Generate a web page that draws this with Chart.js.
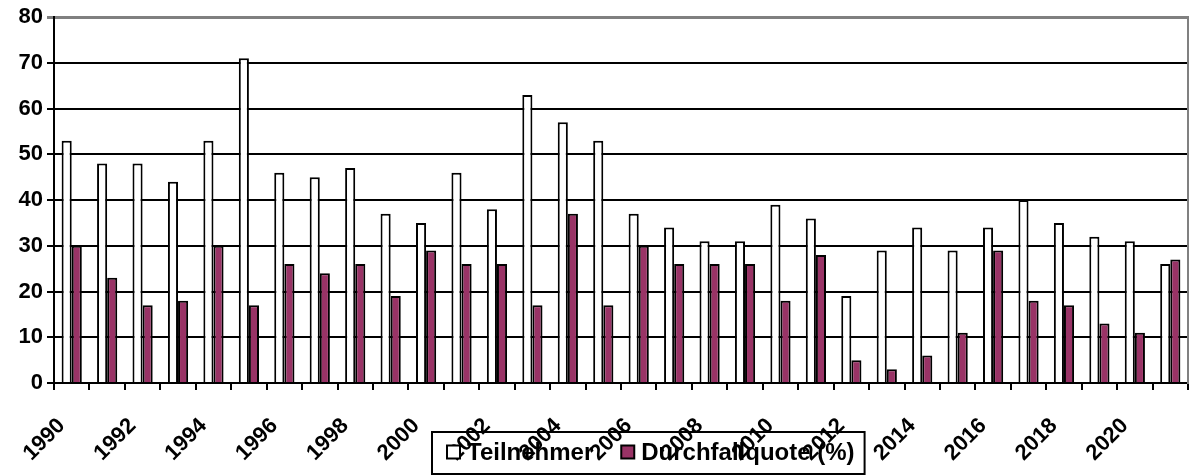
<!DOCTYPE html>
<html>
<head>
<meta charset="utf-8">
<script src="https://cdn.jsdelivr.net/npm/chart.js@4/dist/chart.umd.min.js"></script>
<style>
    html, body { margin: 0; padding: 0; background: #fff; }
    #wrap { width: 1192px; height: 475px; }
</style>
</head>
<body>
<div id="wrap"><canvas id="myChart" width="1192" height="475"></canvas></div>
<script>
const years = [
    "1990", "1991", "1992", "1993", "1994", "1995", "1996", "1997",
    "1998", "1999", "2000", "2001", "2002", "2003", "2004", "2005",
    "2006", "2007", "2008", "2009", "2010", "2011", "2012", "2013",
    "2014", "2015", "2016", "2017", "2018", "2019", "2020", "2021",
];

const teilnehmer = [
    53, 48, 48, 44, 53, 71, 46, 45, 47, 37, 35, 46, 38, 63, 57, 53,
    37, 34, 31, 31, 39, 36, 19, 29, 34, 29, 34, 40, 35, 32, 31, 26,
];

const durchfallquote = [
    30, 23, 17, 18, 30, 17, 26, 24, 26, 19, 29, 26, 26, 17, 37, 17,
    30, 26, 26, 26, 18, 28, 5, 3, 6, 11, 29, 18, 17, 13, 11, 27,
];

const yTicks = [0, 10, 20, 30, 40, 50, 60, 70, 80];

const FONT = "Liberation Sans, Arial, sans-serif";

// legend drawn as an outlined box that sits over the axis labels
const legendBox = {
    id: "legendBox",
    afterDraw(chart) {
        const ctx = chart.ctx;
        const left = 432;
        const top = 432;
        const sq = 13;
        ctx.save();
        ctx.font = "bold 24px " + FONT;
        ctx.textBaseline = "middle";
        ctx.textAlign = "left";

        let x = left + 15;
        const cy = 452;
        chart.data.datasets.forEach((ds, i) => {
            ctx.fillStyle = ds.backgroundColor;
            ctx.fillRect(x, cy - sq / 2, sq, sq);
            ctx.lineWidth = 2;
            ctx.strokeStyle = "#000";
            ctx.strokeRect(x, cy - sq / 2, sq, sq);
            x += sq + 7;
            ctx.fillStyle = "#000";
            ctx.fillText(ds.label, x, cy + 1);
            x += ctx.measureText(ds.label).width;
            if (i < chart.data.datasets.length - 1) x += 28;
        });
        const right = x + 10;

        ctx.lineWidth = 2;
        ctx.strokeStyle = "#000";
        ctx.strokeRect(left, top, right - left, 42);
        ctx.restore();
    },
};

const ctx = document.getElementById("myChart").getContext("2d");
new Chart(ctx, {
    type: "bar",
    data: {
        labels: years,
        datasets: [
            {
                label: "Teilnehmer",
                data: teilnehmer,
                backgroundColor: "#ffffff",
                borderColor: "#000000",
                borderWidth: 2,
            },
            {
                label: "Durchfallquote (%)",
                data: durchfallquote,
                backgroundColor: "#993366",
                borderColor: "#000000",
                borderWidth: 2,
            },
        ],
    },
    options: {
        responsive: false,
        animation: false,
        events: [],
        layout: {
            padding: { top: 17, right: 4, left: 0, bottom: 0 },
        },
        datasets: {
            bar: {
                categoryPercentage: 0.57,
                barPercentage: 1,
            },
        },
        plugins: {
            legend: { display: false },
            tooltip: { enabled: false },
        },
        scales: {
            x: {
                grid: {
                    offset: true,
                    drawOnChartArea: false,
                    tickLength: 7,
                    color: "#000",
                    lineWidth: 2,
                },
                border: { color: "#000", width: 2 },
                ticks: {
                    autoSkip: false,
                    minRotation: 45,
                    maxRotation: 45,
                    padding: 23,
                    labelOffset: -10,
                    color: "#000",
                    font: { family: FONT, size: 22, weight: "bold" },
                    callback: function (value, index) {
                        return index % 2 === 0 ? years[index] : "";
                    },
                },
                afterFit: (scale) => {
                    scale.height = 92;
                    // rotated labels should not shrink the plot sideways
                    scale.paddingLeft = 0;
                    scale.paddingRight = 0;
                },
            },
            y: {
                min: 0,
                max: 80,
                afterBuildTicks: (scale) => {
                    scale.ticks = yTicks.map((v) => ({ value: v }));
                },
                grid: {
                    tickLength: 7,
                    lineWidth: (c) => (c.tick && c.tick.value === 80 ? 3 : 2),
                    color: (c) =>
                        c.tick && c.tick.value === 80 ? "#808080" : "#000",
                },
                border: { color: "#000", width: 2 },
                ticks: {
                    padding: 4,
                    color: "#000",
                    font: { family: FONT, size: 22, weight: "bold" },
                },
                afterFit: (scale) => {
                    scale.width = 54;
                },
            },
            // plain right-hand frame line of the plot area
            yRight: {
                position: "right",
                display: true,
                grid: { display: false },
                ticks: { display: false },
                border: { color: "#808080", width: 2 },
                afterFit: (scale) => {
                    scale.width = 0;
                },
            },
        },
    },
    plugins: [legendBox],
});
</script>
</body>
</html>
